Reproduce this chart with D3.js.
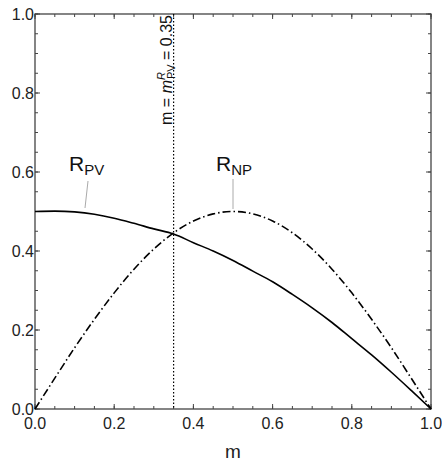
<!DOCTYPE html>
<html>
<head>
<meta charset="utf-8">
<script src="https://d3js.org/d3.v7.min.js"></script>
<style>
  body { margin: 0; background: #fff; }
  text { font-family: "Liberation Sans", Arial, sans-serif; }
</style>
</head>
<body>
<svg id="chart" width="442" height="468"></svg>
<script>
// values
var mValues = [0, 0.05, 0.1, 0.15, 0.2, 0.25, 0.3, 0.35, 0.4, 0.45, 0.5,
               0.55, 0.6, 0.65, 0.7, 0.75, 0.8, 0.85, 0.9, 0.95, 1];
var rPV = [0.5, 0.501, 0.499, 0.493, 0.483, 0.47, 0.456, 0.443, 0.421, 0.4, 0.376,
           0.349, 0.322, 0.29, 0.256, 0.219, 0.178, 0.137, 0.093, 0.047, 0];
var rNP = [0, 0.078, 0.155, 0.227, 0.294, 0.354, 0.405, 0.446, 0.476, 0.494, 0.5,
           0.494, 0.476, 0.446, 0.405, 0.354, 0.294, 0.227, 0.155, 0.078, 0];
var mCut = 0.35;
var majorTicks = [0, 0.2, 0.4, 0.6, 0.8, 1.0];
var minorTicks = d3.range(0, 1.0001, 0.05);

var svg = d3.select('#chart');
var plotL = 35, plotR = 431, plotT = 14, plotB = 409;

var x = d3.scaleLinear().domain([0, 1]).range([plotL, plotR]);
var y = d3.scaleLinear().domain([0, 1]).range([plotB, plotT]);

// ticks, pointing inwards on all four sides
var g = svg.append('g');
function ticks(vals, len) {
    vals.forEach(function(v) {
        g.append('line').attr('x1', x(v)).attr('x2', x(v)).attr('y1', plotB).attr('y2', plotB - len);
        g.append('line').attr('x1', x(v)).attr('x2', x(v)).attr('y1', plotT).attr('y2', plotT + len);
        g.append('line').attr('y1', y(v)).attr('y2', y(v)).attr('x1', plotL).attr('x2', plotL + len);
        g.append('line').attr('y1', y(v)).attr('y2', y(v)).attr('x1', plotR).attr('x2', plotR - len);
    });
}
ticks(minorTicks, 3);
ticks(majorTicks, 5);
g.selectAll('line').attr('stroke', '#444').attr('stroke-width', 1);

svg.append('rect')
    .attr('x', plotL).attr('y', plotT)
    .attr('width', plotR - plotL).attr('height', plotB - plotT)
    .attr('fill', 'none').attr('stroke', '#444').attr('stroke-width', 1.3);

// tick labels
svg.selectAll('.xl').data(majorTicks).enter().append('text')
    .attr('x', function(d) { return x(d); })
    .attr('y', plotB + 20)
    .attr('text-anchor', 'middle')
    .attr('font-size', 16).attr('fill', '#222')
    .text(function(d) { return d.toFixed(1); });

svg.selectAll('.yl').data(majorTicks).enter().append('text')
    .attr('x', plotL - 1)
    .attr('y', function(d) { return y(d) + 6; })
    .attr('text-anchor', 'end')
    .attr('font-size', 16).attr('fill', '#222')
    .text(function(d) { return d.toFixed(1); });

svg.append('text')
    .attr('x', (plotL + plotR) / 2).attr('y', 458)
    .attr('text-anchor', 'middle')
    .attr('font-size', 19).attr('fill', '#222')
    .text('m');

// dotted line at m = 0.35
svg.append('line')
    .attr('x1', x(mCut)).attr('x2', x(mCut))
    .attr('y1', plotT).attr('y2', plotB)
    .attr('stroke', '#000').attr('stroke-width', 1.2)
    .attr('stroke-dasharray', '1.5,2');

// curves
var line = d3.line()
    .x(function(d, i) { return x(mValues[i]); })
    .y(function(d) { return y(d); })
    .curve(d3.curveMonotoneX);

svg.append('path').datum(rPV)
    .attr('d', line)
    .attr('fill', 'none').attr('stroke', '#000').attr('stroke-width', 1.6);

svg.append('path').datum(rNP)
    .attr('d', line)
    .attr('fill', 'none').attr('stroke', '#000').attr('stroke-width', 1.6)
    .attr('stroke-dasharray', '8,3,1.5,3');

// curve labels
svg.append('line').attr('x1', 88).attr('y1', 181).attr('x2', 85).attr('y2', 208)
    .attr('stroke', '#aaa').attr('stroke-width', 1);
svg.append('line').attr('x1', x(0.5)).attr('y1', 179).attr('x2', x(0.5)).attr('y2', 209)
    .attr('stroke', '#aaa').attr('stroke-width', 1);

function rLabel(px, py, sub) {
    var t = svg.append('text').attr('x', px).attr('y', py).attr('font-size', 21).attr('fill', '#111');
    t.append('tspan').text('R');
    t.append('tspan').attr('font-size', 15).attr('dy', 4).text(sub);
}
rLabel(69, 171, 'PV');
rLabel(216, 171, 'NP');

// rotated annotation
var ann = svg.append('text')
    .attr('transform', 'translate(' + (x(mCut) - 1.5) + ',15) rotate(-90)')
    .attr('text-anchor', 'end')
    .attr('font-size', 16).attr('fill', '#111');
ann.append('tspan').text('m = ');
ann.append('tspan').attr('font-style', 'italic').text('m');
ann.append('tspan').attr('font-size', 11).attr('dy', -7).attr('font-style', 'italic').text('R');
ann.append('tspan').attr('font-size', 11).attr('dy', 10).attr('dx', -7).text('PV');
ann.append('tspan').attr('dy', -3).text(' = 0.35');
</script>
</body>
</html>
